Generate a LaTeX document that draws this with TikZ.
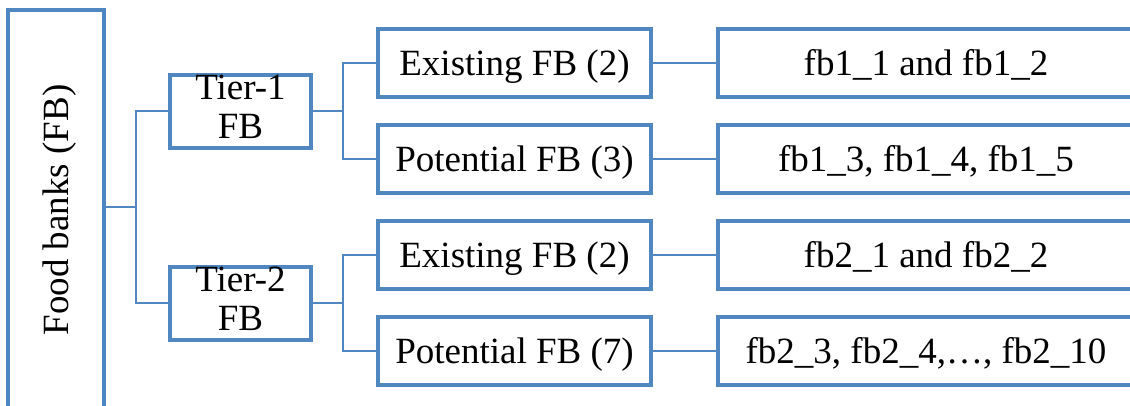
\documentclass[tikz,border=0pt]{standalone}
\usepackage{fontspec}
\setmainfont{Liberation Serif}
\definecolor{fbblue}{RGB}{80,135,192}
\begin{document}
\begin{tikzpicture}[x=1pt,y=-1pt,
  box/.style={draw=fbblue, line width=4pt, inner sep=0pt, text height=24.5pt, text depth=0pt,
    font=\fontsize{37}{39}\selectfont},
  tierbox/.style={box, align=center, minimum width=141pt, minimum height=68pt, text height=64pt, text depth=9pt},
  midbox/.style={box, minimum width=273pt, minimum height=68pt},
  rightbox/.style={box, minimum width=416pt, minimum height=68pt},
  link/.style={draw=fbblue, line width=2.5pt}]
\useasboundingbox (0,0) rectangle (1130,405);
\clip (0,0) rectangle (1130,405);
\node[box, rotate=90, minimum width=400pt, minimum height=96pt] (fb) at (56,210) {Food banks (FB)};
\node[tierbox] (t1) at (240.5,111) {Tier-1\\FB};
\node[tierbox] (t2) at (240.5,303) {Tier-2\\FB};
\node[midbox] (e1) at (514.5,63) {Existing FB (2)};
\node[midbox] (p1) at (514.5,159) {Potential FB (3)};
\node[midbox] (e2) at (514.5,255) {Existing FB (2)};
\node[midbox] (p2) at (514.5,351) {Potential FB (7)};
\node[rightbox] (r1) at (926,63) {fb1\_1 and fb1\_2};
\node[rightbox] (r2) at (926,159) {fb1\_3, fb1\_4, fb1\_5};
\node[rightbox] (r3) at (926,255) {fb2\_1 and fb2\_2};
\node[rightbox] (r4) at (926,351) {fb2\_3, fb2\_4,…, fb2\_10};
\coordinate (j0) at (136,207);
\coordinate (j1) at (343,111);
\coordinate (j2) at (343,303);
\draw[link] (fb.south |- j0) -- (j0);
\draw[link] (t1.west) -| (j0) |- (t2.west);
\draw[link] (t1.east) -- (j1);
\draw[link] (e1.west) -| (j1) |- (p1.west);
\draw[link] (t2.east) -- (j2);
\draw[link] (e2.west) -| (j2) |- (p2.west);
\draw[link] (e1.east) -- (r1.west);
\draw[link] (p1.east) -- (r2.west);
\draw[link] (e2.east) -- (r3.west);
\draw[link] (p2.east) -- (r4.west);
\end{tikzpicture}
\end{document}
